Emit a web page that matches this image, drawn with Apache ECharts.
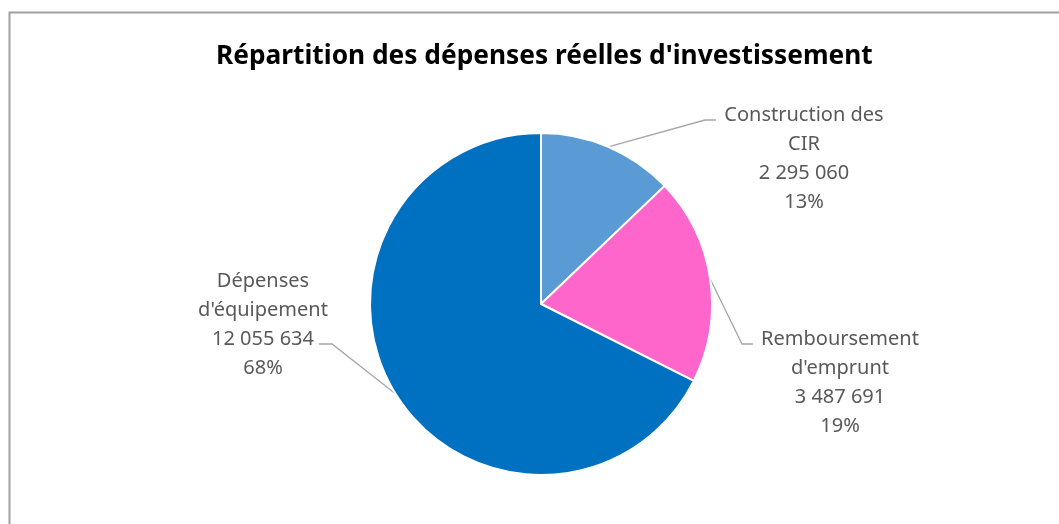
<!DOCTYPE html>
<html>
<head>
<meta charset="utf-8">
<script src="https://cdn.jsdelivr.net/npm/echarts@6/dist/echarts.min.js"></script>
<style>
  html, body { margin: 0; padding: 0; background: #fff; }
  #chart { width: 1059px; height: 524px; }
</style>
</head>
<body>
<div id="chart"></div>
<script>
const titleText = "Répartition des dépenses réelles d'investissement"
const categories = ['Construction des\nCIR', "Remboursement\nd'emprunt", "Dépenses\nd'équipement"]
const values = [2295060, 3487691, 12055634]
const percentLabels = ['13%', '19%', '68%']
const colors = ['#5B9BD5', '#FF66CC', '#0070C0']

// where each label block sits, and the elbow/end of its leader line
const labelPlaces = [
  { x: 804, y: 159, elbow: [705, 120], end: [716, 120] },
  { x: 840, y: 383, elbow: [742, 344], end: [753, 344] },
  { x: 263, y: 325, elbow: [332, 344], end: [319, 344] }
]

function formatNumber(value) {
  return String(value).replace(/\B(?=(\d{3})+(?!\d))/g, ' ')
}

const chart = echarts.init(document.getElementById('chart'))

chart.setOption({
  animation: false,
  title: {
    text: titleText,
    left: 211,
    top: 39,
    textStyle: {
      fontFamily: 'Noto Sans',
      fontWeight: 'bold',
      fontSize: 26.3,
      color: '#000'
    }
  },
  graphic: [
    {
      type: 'rect',
      shape: { x: 9.5, y: 12.5, width: 1200, height: 700 },
      style: { fill: 'none', stroke: '#A0A0A0', lineWidth: 2 },
      silent: true
    }
  ],
  series: [
    {
      type: 'pie',
      center: [541, 304],
      radius: 171,
      startAngle: 90,
      clockwise: true,
      itemStyle: {
        borderColor: '#fff',
        borderWidth: 2
      },
      label: {
        show: true,
        position: 'outside',
        fontFamily: 'Noto Sans',
        fontSize: 20,
        lineHeight: 29,
        color: '#595959',
        align: 'center',
        formatter(params) {
          return `${params.name}\n${formatNumber(params.value)}\n${percentLabels[params.dataIndex]}`
        }
      },
      labelLine: {
        show: true,
        lineStyle: { color: '#A6A6A6', width: 1.3 }
      },
      labelLayout(params) {
        const place = labelPlaces[params.dataIndex]
        const start = params.labelLinePoints ? params.labelLinePoints[0] : place.elbow
        return {
          x: place.x,
          y: place.y,
          align: 'center',
          verticalAlign: 'middle',
          labelLinePoints: [start, place.elbow, place.end]
        }
      },
      data: categories.map((name, i) => ({
        name,
        value: values[i],
        itemStyle: { color: colors[i] }
      }))
    }
  ]
})
</script>
</body>
</html>
